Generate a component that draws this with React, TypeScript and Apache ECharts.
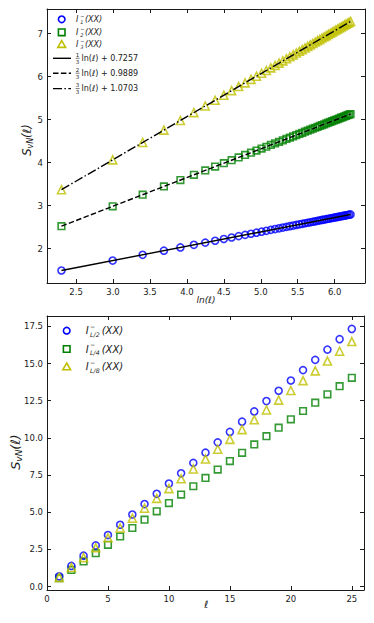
import React, { useEffect, useRef } from "react";
import * as echarts from "echarts";

// ---------- top panel data ----------
const ELL = [10, 20, 30, 40, 50, 60, 70, 80, 90, 100, 110, 120, 130, 140, 150, 160, 170, 180, 190, 200,
  210, 220, 230, 240, 250, 260, 270, 280, 290, 300, 310, 320, 330, 340, 350, 360, 370, 380, 390, 400,
  410, 420, 430, 440, 450, 460, 470, 480, 490, 500];
const S_I1 = [1.493, 1.724, 1.859, 1.955, 2.030, 2.091, 2.142, 2.186, 2.226, 2.261, 2.293, 2.322, 2.348, 2.373, 2.396, 2.417, 2.438, 2.457, 2.475, 2.492,
  2.508, 2.524, 2.538, 2.553, 2.566, 2.579, 2.592, 2.604, 2.616, 2.627, 2.638, 2.649, 2.659, 2.669, 2.678, 2.688, 2.697, 2.706, 2.714, 2.723,
  2.731, 2.739, 2.747, 2.755, 2.762, 2.769, 2.777, 2.784, 2.791, 2.797];
const S_I2 = [2.524, 2.986, 3.256, 3.448, 3.597, 3.719, 3.821, 3.910, 3.989, 4.059, 4.123, 4.181, 4.234, 4.283, 4.329, 4.372, 4.413, 4.451, 4.487, 4.521,
  4.554, 4.585, 4.614, 4.643, 4.670, 4.696, 4.721, 4.745, 4.769, 4.791, 4.813, 4.834, 4.855, 4.875, 4.894, 4.913, 4.931, 4.949, 4.966, 4.983,
  5.000, 5.016, 5.031, 5.047, 5.062, 5.076, 5.091, 5.105, 5.119, 5.132];
const S_I3 = [3.373, 4.066, 4.472, 4.759, 4.982, 5.165, 5.319, 5.452, 5.570, 5.676, 5.771, 5.858, 5.938, 6.012, 6.081, 6.145, 6.206, 6.263, 6.317, 6.369,
  6.417, 6.464, 6.508, 6.551, 6.592, 6.631, 6.669, 6.705, 6.740, 6.774, 6.807, 6.839, 6.869, 6.899, 6.928, 6.956, 6.984, 7.010, 7.036, 7.062,
  7.087, 7.111, 7.134, 7.157, 7.180, 7.202, 7.223, 7.244, 7.265, 7.285];
const FIT_X = [2.3026, 6.2146];
const FIT_1 = [1.4932, 2.7972];
const FIT_2 = [2.524, 5.132];
const FIT_3 = [3.3729, 7.2849];
const FIT_LABELS = ["ln(ℓ) + 0.7257", "ln(ℓ) + 0.9889", "ln(ℓ) + 1.0703"];
const FIT_NUM = ["1", "2", "3"];
const TOP_X_TICKS = [2.5, 3.0, 3.5, 4.0, 4.5, 5.0, 5.5, 6.0];
const TOP_Y_TICKS = [2, 3, 4, 5, 6, 7];

// ---------- bottom panel data ----------
const L_SIZES = [1, 2, 3, 4, 5, 6, 7, 8, 9, 10, 11, 12, 13, 14, 15, 16, 17, 18, 19, 20, 21, 22, 23, 24, 25];
const B_L2 = [0.69, 1.39, 2.08, 2.77, 3.47, 4.16, 4.85, 5.55, 6.24, 6.93, 7.62, 8.32, 9.01, 9.70, 10.40, 11.09, 11.78, 12.48, 13.17, 13.86, 14.56, 15.25, 15.94, 16.64, 17.33];
const B_L4 = [0.56, 1.12, 1.69, 2.25, 2.81, 3.37, 3.94, 4.50, 5.06, 5.62, 6.19, 6.75, 7.31, 7.87, 8.44, 9.00, 9.56, 10.12, 10.69, 11.25, 11.81, 12.37, 12.93, 13.48, 14.04];
const B_L8 = [0.62, 1.28, 1.95, 2.61, 3.28, 3.94, 4.60, 5.27, 5.93, 6.59, 7.25, 7.91, 8.58, 9.24, 9.90, 10.56, 11.22, 11.88, 12.54, 13.19, 13.85, 14.51, 15.17, 15.83, 16.48];
const BOT_X_TICKS = [0, 5, 10, 15, 20, 25];
const BOT_Y_TICKS = [0, 2.5, 5, 7.5, 10, 12.5, 15, 17.5];

const BLUE = "#0000ff";
const GREEN = "#008000";
const YELLOW = "#bfbf00";
const INK = "#1a1a1a";
const FONT = '"DejaVu Sans", sans-serif';

function axis(kind: "x" | "y", grid: number, pos: string, min: number, max: number, ticks: number[], labels: boolean, fmt: (v: number) => string) {
  return {
    type: "value",
    gridIndex: grid,
    position: pos,
    min,
    max,
    axisLine: { show: true, onZero: false, lineStyle: { color: INK, width: 1 } },
    axisTick: { show: true, inside: true, length: 4, customValues: ticks, lineStyle: { color: INK, width: 1 } },
    axisLabel: {
      show: labels,
      customValues: ticks,
      formatter: (v: number) => fmt(v),
      margin: 4,
      fontSize: 8.5,
      fontFamily: FONT,
      color: INK,
    },
    splitLine: { show: false },
  };
}

function hollow(color: string) {
  return { color: "rgba(0,0,0,0)", borderColor: color, borderWidth: 1.6 };
}

function indexLabel(x: number, y: number, sub: string, size: number, subOff: number, parenOff: number) {
  const small = size * 0.62;
  return [
    { type: "text", x, y, style: { text: "I", font: `italic ${size}px ${FONT}`, fill: INK, textVerticalAlign: "middle" } },
    { type: "text", x: x + subOff, y: y - size * 0.45, style: { text: "−", font: `${small}px ${FONT}`, fill: INK, textVerticalAlign: "middle" } },
    { type: "text", x: x + subOff, y: y + size * 0.36, style: { text: sub, font: `italic ${small}px ${FONT}`, fill: INK, textVerticalAlign: "middle" } },
    { type: "text", x: x + parenOff, y, style: { text: "(XX)", font: `italic ${size}px ${FONT}`, fill: INK, textVerticalAlign: "middle" } },
  ];
}

function svnLabel(cx: number, cy: number, size: number) {
  const s = size;
  const wS = s * 0.62;
  const wSub = s * 0.7 * 1.3;
  const wPar = s * 1.2;
  const total = wS + wSub + wPar;
  const x0 = -total / 2;
  return {
    type: "group",
    x: cx,
    y: cy,
    rotation: Math.PI / 2,
    children: [
      { type: "text", x: x0, y: 0, style: { text: "S", font: `italic ${s}px ${FONT}`, fill: INK, textVerticalAlign: "middle" } },
      { type: "text", x: x0 + wS, y: s * 0.3, style: { text: "vN", font: `italic ${s * 0.7}px ${FONT}`, fill: INK, textVerticalAlign: "middle" } },
      { type: "text", x: x0 + wS + wSub, y: 0, style: { text: "(ℓ)", font: `italic ${s}px ${FONT}`, fill: INK, textVerticalAlign: "middle" } },
    ],
  };
}

export default function App() {
  const ref = useRef<HTMLDivElement>(null);
  useEffect(() => {
    if (!ref.current) return;
    const chart = echarts.init(ref.current, null, { renderer: "svg" });
    const lnX = ELL.map((l) => Math.log(l));
    const pairs = (xs: number[], ys: number[]) => xs.map((x, i) => [x, ys[i]]);
    const int = (v: number) => String(Math.round(v));
    const one = (v: number) => v.toFixed(1);

    const lineStyles = [
      { type: "solid" as any, dash: [] as number[] },
      { type: [5.5, 2.4] as any, dash: [5.5, 2.4] },
      { type: [9, 2.4, 1.5, 2.4] as any, dash: [9, 2.4, 1.5, 2.4] },
    ];
    const fits = [FIT_1, FIT_2, FIT_3];

    const graphic: any[] = [];
    // top legend markers
    graphic.push({ type: "circle", shape: { cx: 61.7, cy: 19.3, r: 3.3 }, style: { fill: "none", stroke: BLUE, lineWidth: 1.6 } });
    graphic.push({ type: "rect", shape: { x: 58.4, y: 29, width: 6.6, height: 6.6 }, style: { fill: "none", stroke: GREEN, lineWidth: 1.6 } });
    graphic.push({ type: "polygon", shape: { points: [[61.7, 40.6], [65.6, 47.4], [57.8, 47.4]] }, style: { fill: "none", stroke: YELLOW, lineWidth: 1.6 } });
    graphic.push(...indexLabel(76, 19.3, "1", 8, 4.2, 9));
    graphic.push(...indexLabel(76, 32.3, "2", 8, 4.2, 9));
    graphic.push(...indexLabel(76, 44.3, "3", 8, 4.2, 9));
    const fitRows = [58.3, 73.2, 88.6];
    fitRows.forEach((y, i) => {
      graphic.push({ type: "line", shape: { x1: 53, y1: y, x2: 71, y2: y }, style: { stroke: "#000", lineWidth: 1.4, lineDash: lineStyles[i].dash } });
      graphic.push({ type: "text", x: 77.6, y: y - 3.4, style: { text: FIT_NUM[i], font: `5.5px ${FONT}`, fill: INK, textAlign: "center", textVerticalAlign: "middle" } });
      graphic.push({ type: "line", shape: { x1: 75.6, y1: y, x2: 79.6, y2: y }, style: { stroke: INK, lineWidth: 0.6 } });
      graphic.push({ type: "text", x: 77.6, y: y + 3.6, style: { text: "3", font: `5.5px ${FONT}`, fill: INK, textAlign: "center", textVerticalAlign: "middle" } });
      graphic.push({ type: "text", x: 81.5, y, style: { text: FIT_LABELS[i], font: `8px ${FONT}`, fill: INK, textVerticalAlign: "middle" } });
    });
    // bottom legend
    graphic.push({ type: "circle", shape: { cx: 66.7, cy: 330.7, r: 3.3 }, style: { fill: "none", stroke: BLUE, lineWidth: 1.6 } });
    graphic.push({ type: "rect", shape: { x: 63.4, y: 345.7, width: 6.6, height: 6.6 }, style: { fill: "none", stroke: GREEN, lineWidth: 1.6 } });
    graphic.push({ type: "polygon", shape: { points: [[66.7, 363], [70.6, 369.8], [62.8, 369.8]] }, style: { fill: "none", stroke: YELLOW, lineWidth: 1.6 } });
    graphic.push(...indexLabel(85.7, 330.7, "L/2", 10, 4.4, 16));
    graphic.push(...indexLabel(85.7, 349, "L/4", 10, 4.4, 16));
    graphic.push(...indexLabel(85.7, 366.7, "L/8", 10, 4.4, 16));
    // axis titles
    graphic.push({ type: "text", x: 206, y: 300, style: { text: "ln(ℓ)", font: `italic 9px ${FONT}`, fill: INK, textAlign: "center", textVerticalAlign: "middle" } });
    graphic.push({ type: "text", x: 206, y: 604, style: { text: "ℓ", font: `italic 10px ${FONT}`, fill: INK, textAlign: "center", textVerticalAlign: "middle" } });
    graphic.push(svnLabel(27, 140, 11.5));
    graphic.push(svnLabel(15, 452, 13));

    const option: any = {
      animation: false,
      backgroundColor: "#ffffff",
      grid: [
        { left: 47, top: 9, width: 318, height: 274 },
        { left: 47, top: 316, width: 317, height: 274 },
      ],
      xAxis: [
        axis("x", 0, "bottom", 2.107, 6.41, TOP_X_TICKS, true, one),
        axis("x", 0, "top", 2.107, 6.41, TOP_X_TICKS, false, one),
        axis("x", 1, "bottom", 0, 26, BOT_X_TICKS, true, int),
        axis("x", 1, "top", 0, 26, BOT_X_TICKS, false, int),
      ],
      yAxis: [
        axis("y", 0, "left", 1.203, 7.575, TOP_Y_TICKS, true, int),
        axis("y", 0, "right", 1.203, 7.575, TOP_Y_TICKS, false, int),
        axis("y", 1, "left", -0.23, 18.2, BOT_Y_TICKS, true, one),
        axis("y", 1, "right", -0.23, 18.2, BOT_Y_TICKS, false, one),
      ],
      series: [
        { type: "scatter", xAxisIndex: 0, yAxisIndex: 0, data: pairs(lnX, S_I1), symbol: "circle", symbolSize: 7, itemStyle: hollow(BLUE), z: 2 },
        { type: "scatter", xAxisIndex: 0, yAxisIndex: 0, data: pairs(lnX, S_I2), symbol: "rect", symbolSize: 6.6, itemStyle: hollow(GREEN), z: 2 },
        { type: "scatter", xAxisIndex: 0, yAxisIndex: 0, data: pairs(lnX, S_I3), symbol: "triangle", symbolSize: 8, itemStyle: hollow(YELLOW), z: 2 },
        ...fits.map((f, i) => ({
          type: "line",
          xAxisIndex: 0,
          yAxisIndex: 0,
          data: pairs(FIT_X, f),
          symbol: "none",
          showSymbol: false,
          lineStyle: { color: "#000", width: 1.4, type: lineStyles[i].type },
          z: 4,
        })),
        { type: "scatter", xAxisIndex: 2, yAxisIndex: 2, data: pairs(L_SIZES, B_L4), symbol: "rect", symbolSize: 6.6, itemStyle: hollow(GREEN), z: 2 },
        { type: "scatter", xAxisIndex: 2, yAxisIndex: 2, data: pairs(L_SIZES, B_L8), symbol: "triangle", symbolSize: 8, itemStyle: hollow(YELLOW), z: 3 },
        { type: "scatter", xAxisIndex: 2, yAxisIndex: 2, data: pairs(L_SIZES, B_L2), symbol: "circle", symbolSize: 7, itemStyle: hollow(BLUE), z: 2 },
      ],
      graphic,
    };
    chart.setOption(option);
    return () => chart.dispose();
  }, []);
  return <div ref={ref} style={{ position: "fixed", left: 0, top: 0, width: 374, height: 623 }} />;
}
